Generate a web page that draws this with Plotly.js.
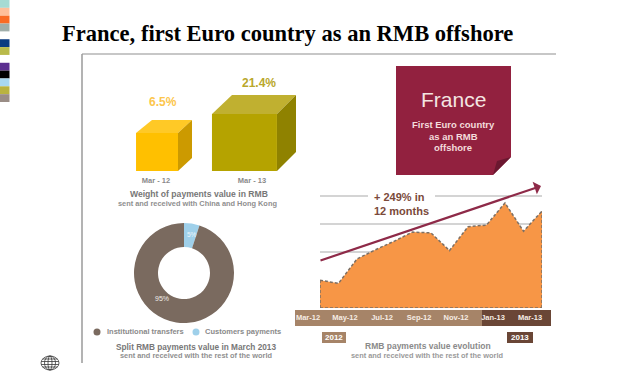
<!DOCTYPE html>
<html><head><meta charset="utf-8">
<script src="https://cdn.plot.ly/plotly-3.0.1.min.js"></script>
<style>html,body{margin:0;padding:0;background:#fff;overflow:hidden}#c{width:638px;height:383px}</style>
</head><body><div id="c"></div>
<script>
// ---- data ----
const titleText = 'France, first Euro country as an RMB offshore';
const weightPeriods = ['Mar - 12', 'Mar - 13'];
const weightValues = [6.5, 21.4];
const splitLabels = ['Customers payments', 'Institutional transfers'];
const splitValues = [5, 95];
const months = ['Mar-12','Apr-12','May-12','Jun-12','Jul-12','Aug-12','Sep-12','Oct-12','Nov-12','Dec-12','Jan-13','Feb-13','Mar-13'];
const paymentValues = [99, 88, 175, 208, 238, 271, 268, 205, 290, 296, 375, 274, 346];
const monthTicks = ['Mar-12','May-12','Jul-12','Sep-12','Nov-12','Jan-13','Mar-13'];
const stripColors = ['#a6dbd3','#ffbf9a','#f96b25','#a0aeaa',null,'#0b3b80','#b9ba4a',null,'#5c2f90','#000000','#a8d8f0','#b9b33f','#9a8d86'];

// ---- page coordinate helpers ----
const W = 638, H = 383;
const X = p => p / W, Y = p => 1 - p / H;
const sans = '"Liberation Sans", Arial, sans-serif';
const shapes = [], annotations = [];
const poly = (pts, fill, layer) => shapes.push({type:'path', xref:'paper', yref:'paper', layer:layer||'above',
  path:'M' + pts.map(p => X(p[0]) + ',' + Y(p[1])).join('L') + 'Z', fillcolor:fill, line:{width:0}});
const rect = (x0,y0,x1,y1,fill,layer) => shapes.push({type:'rect', xref:'paper', yref:'paper', layer:layer||'above',
  x0:X(x0), x1:X(x1), y0:Y(y0), y1:Y(y1), fillcolor:fill, line:{width:0}});
const hline = (x0,y0,x1,y1,color,w) => shapes.push({type:'line', xref:'paper', yref:'paper', layer:'below',
  x0:X(x0), x1:X(x1), y0:Y(y0), y1:Y(y1), line:{color:color, width:w}});
const oval = (cx,cy,rx,ry,fill,lineColor,lw) => shapes.push({type:'circle', xref:'paper', yref:'paper',
  x0:X(cx-rx), x1:X(cx+rx), y0:Y(cy+ry), y1:Y(cy-ry), fillcolor:fill||'rgba(0,0,0,0)', line:{color:lineColor||'rgba(0,0,0,0)', width:lw||0}});
const label = (x,y,text,size,color,opts) => annotations.push(Object.assign({xref:'paper', yref:'paper', x:X(x), y:Y(y), text:text,
  showarrow:false, xanchor:'center', yanchor:'middle', font:{family:sans, size:size, color:color}}, opts||{}));
const bold = (size,color) => ({font:{family:sans,size:size,color:color,weight:700}});

// colour strip at the left edge
let stripY = 0;
const stripH = 102 / stripColors.length;
stripColors.forEach(c => { if (c) rect(0, stripY, 9.5, stripY + stripH, c); stripY += stripH; });

// frame
hline(82, 54, 556, 54, '#b5b5b5', 1.5);
hline(82, 54, 82, 363, '#9a9a9a', 1.5);

// cube faces around the bars
poly([[136,133],[152,120],[192,120],[178,133]], '#ffc926');
poly([[178,133],[192,120],[192,158],[178,171]], '#cc9a00');
poly([[212,114],[232,95],[296,95],[277,114]], '#c0b030');
poly([[277,114],[296,95],[296,152],[277,171]], '#8f8200');
label(163, 102, weightValues[0] + '%', 12, '#fcc64c', bold(12,'#fcc64c'));
label(259, 83, weightValues[1] + '%', 12, '#b9a72c', bold(12,'#b9a72c'));
label(199, 194, 'Weight of payments value in RMB', 8.6, '#777777', bold(8.6,'#777777'));
label(197, 203, 'sent and received with China and Hong Kong', 7.4, '#8f8f8f', bold(7.4,'#8f8f8f'));

// red note
poly([[396,66],[511,66],[511,157],[493,175],[396,175]], '#92213f');
poly([[511,157],[493,175],[497,161]], '#6b1830');
label(453, 99, 'France', 21, '#f4e6e2');
label(453, 125, 'First Euro country', 9.5, '#f4dcdc', bold(9.5,'#f4dcdc'));
label(453, 136, 'as an RMB', 9.5, '#f4dcdc', bold(9.5,'#f4dcdc'));
label(453, 147, 'offshore', 9.5, '#f4dcdc', bold(9.5,'#f4dcdc'));

// donut labels and legend
label(192, 235, splitValues[0] + '%', 6.5, '#eef6fb');
label(162, 298, splitValues[1] + '%', 7, '#f1ece8');
oval(97, 332, 3.5, 3.5, '#7a6a5f');
oval(196, 332, 3.5, 3.5, '#9fd0ea');
label(105, 331, splitLabels[1], 7.5, '#8a8a8a', Object.assign({xanchor:'left'}, bold(7.5,'#8a8a8a')));
label(203, 331, splitLabels[0], 7.5, '#8a8a8a', Object.assign({xanchor:'left'}, bold(7.5,'#8a8a8a')));
label(196, 347, 'Split RMB payments value in March 2013', 8.25, '#777777', bold(8.25,'#777777'));
label(196, 355, 'sent and received with the rest of the world', 7.4, '#8f8f8f', bold(7.4,'#8f8f8f'));

// timeline band
rect(295, 310, 482, 326, '#a68468', 'below');
rect(482, 310, 551, 326, '#6a4636', 'below');
rect(322, 332, 346, 343, '#a68468');
rect(507, 332, 533, 343, '#6a4636');
label(334, 337.5, '2012', 8, '#ffffff', bold(8,'#ffffff'));
label(520, 337.5, '2013', 8, '#ffffff', bold(8,'#ffffff'));
label(428, 346, 'RMB payments value evolution', 8.5, '#8a8a8a', bold(8.5,'#8a8a8a'));
label(427, 355, 'sent and received with the rest of the world', 7.4, '#9a9a9a', bold(7.4,'#9a9a9a'));

// area outline on the left, right and bottom, through the area axes
const dash = {color:'#7d7065', width:1.5, dash:'3px,2px'};
const last = months[months.length - 1];
shapes.push({type:'line', xref:'x3', yref:'y3', x0:months[0], x1:months[0], y0:0, y1:paymentValues[0], line:dash});
shapes.push({type:'line', xref:'x3', yref:'y3', x0:last, x1:last, y0:0, y1:paymentValues[paymentValues.length-1], line:dash});
shapes.push({type:'line', xref:'x3', yref:'y3', x0:months[0], x1:last, y0:0, y1:0, line:dash});

// growth note (on a white patch that interrupts the top gridline) and trend arrow
rect(368, 190, 435, 202, '#ffffff');
label(373, 204, '+ 249% in<br>12 months', 11, '#7b4a3a', Object.assign({xanchor:'left', align:'left', borderpad:0}, bold(11,'#7b4a3a')));
annotations.push({xref:'paper', yref:'paper', x:X(541), y:Y(186), text:'', showarrow:true, ax:-222, ay:75,
  arrowhead:1, arrowsize:1, arrowwidth:2.2, arrowcolor:'#8e2a48', standoff:0});

// globe logo
[[9,7],[5.5,7],[2,7]].forEach(r => oval(50, 363, r[0], r[1], null, '#3a3a3a', 0.8));
[-4,-1.5,1.5,4].forEach(d => {
  const half = 9 * Math.sqrt(1 - (d*d)/49);
  shapes.push({type:'line', xref:'paper', yref:'paper', x0:X(50-half), x1:X(50+half), y0:Y(363+d), y1:Y(363+d), line:{color:'#3a3a3a', width:0.8}});
});

const data = [
  {type:'bar', x:weightPeriods, y:weightValues, xaxis:'x', yaxis:'y', width:[0.4375,0.677], offset:[-0.208,-0.417],
   marker:{color:['#ffc000','#b5a300'], line:{width:0}}, hoverinfo:'skip', showlegend:false},
  {type:'pie', values:splitValues, labels:splitLabels, sort:false, direction:'clockwise', rotation:0, hole:0.52,
   domain:{x:[X(134),X(234)], y:[Y(323),Y(223)]}, textinfo:'none',
   marker:{colors:['#9fd0ea','#7a6a5f'], line:{width:0}}, showlegend:false, hoverinfo:'skip'},
  {type:'scatter', mode:'lines', x:months, y:paymentValues, xaxis:'x3', yaxis:'y3', fill:'tozeroy', fillcolor:'#f79646',
   line:{color:'#7d7065', width:1.5, dash:'3px,2px'}, hoverinfo:'skip', showlegend:false}
];

const layout = {
  width:W, height:H, margin:{l:0,r:0,t:0,b:0}, paper_bgcolor:'#ffffff', plot_bgcolor:'rgba(0,0,0,0)', showlegend:false,
  title:{text:'<b>' + titleText + '</b>', x:X(62), xanchor:'left', y:Y(33.5), yanchor:'middle',
         font:{family:'"Liberation Serif", "Times New Roman", serif', size:22.55, color:'#000000'}},
  xaxis:{domain:[X(108),X(300)], type:'category', categoryorder:'array', categoryarray:weightPeriods, range:[-0.5,1.5],
         showgrid:false, zeroline:false, showline:false, ticks:'', anchor:'y', ticklabelstandoff:3,
         tickfont:{family:sans,size:7.5,color:'#8a8a8a',weight:700}},
  yaxis:{domain:[Y(171),Y(100)], type:'log', range:[-0.222,1.713], visible:false, anchor:'x'},
  xaxis3:{domain:[X(320),X(542)], type:'category', categoryorder:'array', categoryarray:months, range:[0,12], anchor:'y3',
          showgrid:false, zeroline:false, showline:false, ticks:'', tickmode:'array', tickvals:monthTicks, ticktext:monthTicks,
          tickangle:0, ticklabelshift:-12, ticklabelstandoff:3, tickfont:{family:sans,size:7.5,color:'#f6ece4',weight:700}},
  yaxis3:{domain:[Y(308),Y(185)], range:[0,439], anchor:'x3', showticklabels:false, ticks:'', zeroline:false, showline:false,
          showgrid:true, gridcolor:'#d4d4d4', gridwidth:1.5, tickmode:'array', tickvals:[200,300,400]},
  shapes:shapes, annotations:annotations
};
Plotly.newPlot('c', data, layout, {staticPlot:true, displayModeBar:false});
</script></body></html>
